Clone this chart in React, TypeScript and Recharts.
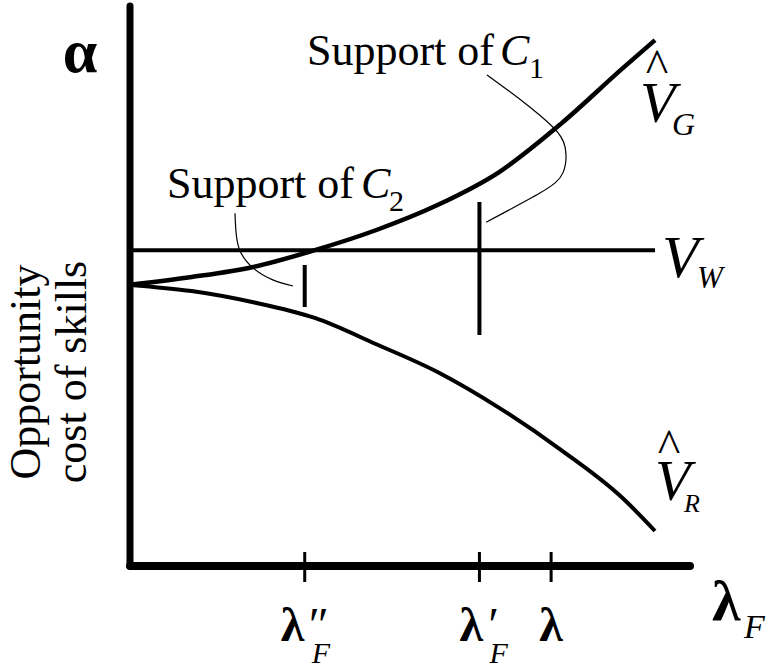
import React from 'react';
import { ComposedChart, Line, XAxis, YAxis, ReferenceLine } from 'recharts';

// curve positions (x along lambda_F, y = opportunity cost)
const curveX = [0, 11, 22, 33, 44, 55, 66, 77, 88, 93.75];
const vGHat = [50.2, 51.6, 53.4, 56.4, 60.0, 64.5, 70.4, 79.0, 88.9, 93.9];
const vRHat = [50.2, 49.1, 47.1, 44.3, 39.6, 34.6, 28.2, 20.7, 12.1, 6.25];
const vWX = [0, 93.75];
const vWLevel = 56.4;

// tick positions on the lambda_F axis
const tickKeys = ['lambda2F', 'lambda1F', 'lambda'];
const tickValues = [31.2, 62.4, 75.2];

// supports of C1 and C2 (vertical bars)
const supportC2 = [46.25, 53.75];
const supportC1 = [41.25, 65.0];

// leader lines from the labels
const leaderC1X = [63.75, 69.8, 75.5, 77.7, 77.3, 73.2, 63.6];
const leaderC1Y = [87.7, 83.2, 78.4, 74.8, 70.2, 66.6, 61.4];
const leaderC2X = [18.75, 18.9, 19.6, 22.0, 25.5, 29.1];
const leaderC2Y = [63.0, 60.0, 56.4, 53.2, 51.1, 50.0];

const serif = "'Liberation Serif', 'Times New Roman', Times, serif";
const txt = { fontFamily: serif };

const gData = curveX.map((x, i) => ({ x, y: vGHat[i] }));
const rData = curveX.map((x, i) => ({ x, y: vRHat[i] }));
const wData = vWX.map((x) => ({ x, y: vWLevel }));
const c1Data = leaderC1X.map((x, i) => ({ x, y: leaderC1Y[i] }));
const c2Data = leaderC2X.map((x, i) => ({ x, y: leaderC2Y[i] }));

function LambdaTick(props: any) {
  const { x, y, index } = props;
  const key = tickKeys[index];
  let label;
  if (key === 'lambda2F') {
    label = (
      <text style={txt} fill="#000">
        <tspan x={x - 24} y={y + 75} fontSize={48} fontWeight="bold">λ</tspan>
        <tspan x={x + 1} y={y + 75} fontSize={48} fontStyle="italic">″</tspan>
        <tspan x={x + 7} y={y + 97} fontSize={30} fontStyle="italic">F</tspan>
      </text>
    );
  } else if (key === 'lambda1F') {
    label = (
      <text style={txt} fill="#000">
        <tspan x={x - 20} y={y + 75} fontSize={48} fontWeight="bold">λ</tspan>
        <tspan x={x + 6} y={y + 75} fontSize={48} fontStyle="italic">′</tspan>
        <tspan x={x + 10} y={y + 97} fontSize={30} fontStyle="italic">F</tspan>
      </text>
    );
  } else {
    label = (
      <text x={x} y={y + 75} style={txt} fill="#000" fontSize={48} fontWeight="bold" textAnchor="middle">λ</text>
    );
  }
  return (
    <g>
      <line x1={x} x2={x} y1={y - 14} y2={y + 16} stroke="#000" strokeWidth={3} />
      {label}
    </g>
  );
}

function Labels() {
  return (
    <svg width={769} height={669} style={{ position: 'absolute', left: 0, top: 0, pointerEvents: 'none' }}>
      <g style={txt} fill="#000">
        <text x={80} y={72} fontSize={62} fontWeight="bold" textAnchor="middle">α</text>

        <text x={40} y={372} fontSize={44} textAnchor="middle" transform="rotate(-90 40 372)">Opportunity</text>
        <text x={86} y={372} fontSize={44} textAnchor="middle" transform="rotate(-90 86 372)">cost of skills</text>

        <text x={307} y={65} fontSize={44}>Support of</text>
        <text x={500} y={65} fontSize={44} fontStyle="italic">C</text>
        <text x={529} y={78} fontSize={30}>1</text>

        <text x={167} y={198} fontSize={44}>Support of</text>
        <text x={361} y={198} fontSize={44} fontStyle="italic">C</text>
        <text x={389} y={211} fontSize={30}>2</text>

        <text x={657} y={82} fontSize={48} textAnchor="middle">^</text>
        <text x={640} y={122} fontSize={58} fontStyle="italic">V</text>
        <text x={672} y={135} fontSize={32} fontStyle="italic">G</text>

        <text x={662} y={277} fontSize={60} fontStyle="italic">V</text>
        <text x={697} y={288} fontSize={31} fontStyle="italic">W</text>

        <text x={669} y={462} fontSize={48} textAnchor="middle">^</text>
        <text x={655} y={500} fontSize={58} fontStyle="italic">V</text>
        <text x={684} y={512} fontSize={26} fontStyle="italic">R</text>

        <text x={712} y={620} fontSize={58} fontWeight="bold">λ</text>
        <text x={744} y={638} fontSize={34} fontStyle="italic">F</text>
      </g>
    </svg>
  );
}

export default function App() {
  return (
    <div style={{ position: 'absolute', left: 0, top: 0, width: 769, height: 669, background: '#fff' }}>
      <ComposedChart width={769} height={669} margin={{ top: 6, right: 79, bottom: 43, left: 70 }}>
        <XAxis
          type="number"
          dataKey="x"
          domain={[0, 100]}
          ticks={tickValues}
          height={60}
          tickSize={0}
          tickMargin={0}
          tickLine={false}
          tick={<LambdaTick />}
          axisLine={{ stroke: '#000', strokeWidth: 8, strokeLinecap: 'round' }}
          allowDataOverflow
        />
        <YAxis
          type="number"
          domain={[0, 100]}
          width={60}
          tick={false}
          tickLine={false}
          axisLine={{ stroke: '#000', strokeWidth: 7, strokeLinecap: 'round' }}
          allowDataOverflow
        />
        <Line data={wData} dataKey="y" type="linear" stroke="#000" strokeWidth={4} dot={false} isAnimationActive={false} />
        <Line data={gData} dataKey="y" type="monotoneX" stroke="#000" strokeWidth={4.5} dot={false} isAnimationActive={false} />
        <Line data={rData} dataKey="y" type="monotoneX" stroke="#000" strokeWidth={4} dot={false} isAnimationActive={false} />
        <Line data={c1Data} dataKey="y" type="natural" stroke="#000" strokeWidth={1.2} dot={false} isAnimationActive={false} />
        <Line data={c2Data} dataKey="y" type="natural" stroke="#000" strokeWidth={1.2} dot={false} isAnimationActive={false} />
        <ReferenceLine
          segment={[{ x: tickValues[0], y: supportC2[0] }, { x: tickValues[0], y: supportC2[1] }]}
          stroke="#000"
          strokeWidth={4}
        />
        <ReferenceLine
          segment={[{ x: tickValues[1], y: supportC1[0] }, { x: tickValues[1], y: supportC1[1] }]}
          stroke="#000"
          strokeWidth={4}
        />
      </ComposedChart>
      <Labels />
    </div>
  );
}
